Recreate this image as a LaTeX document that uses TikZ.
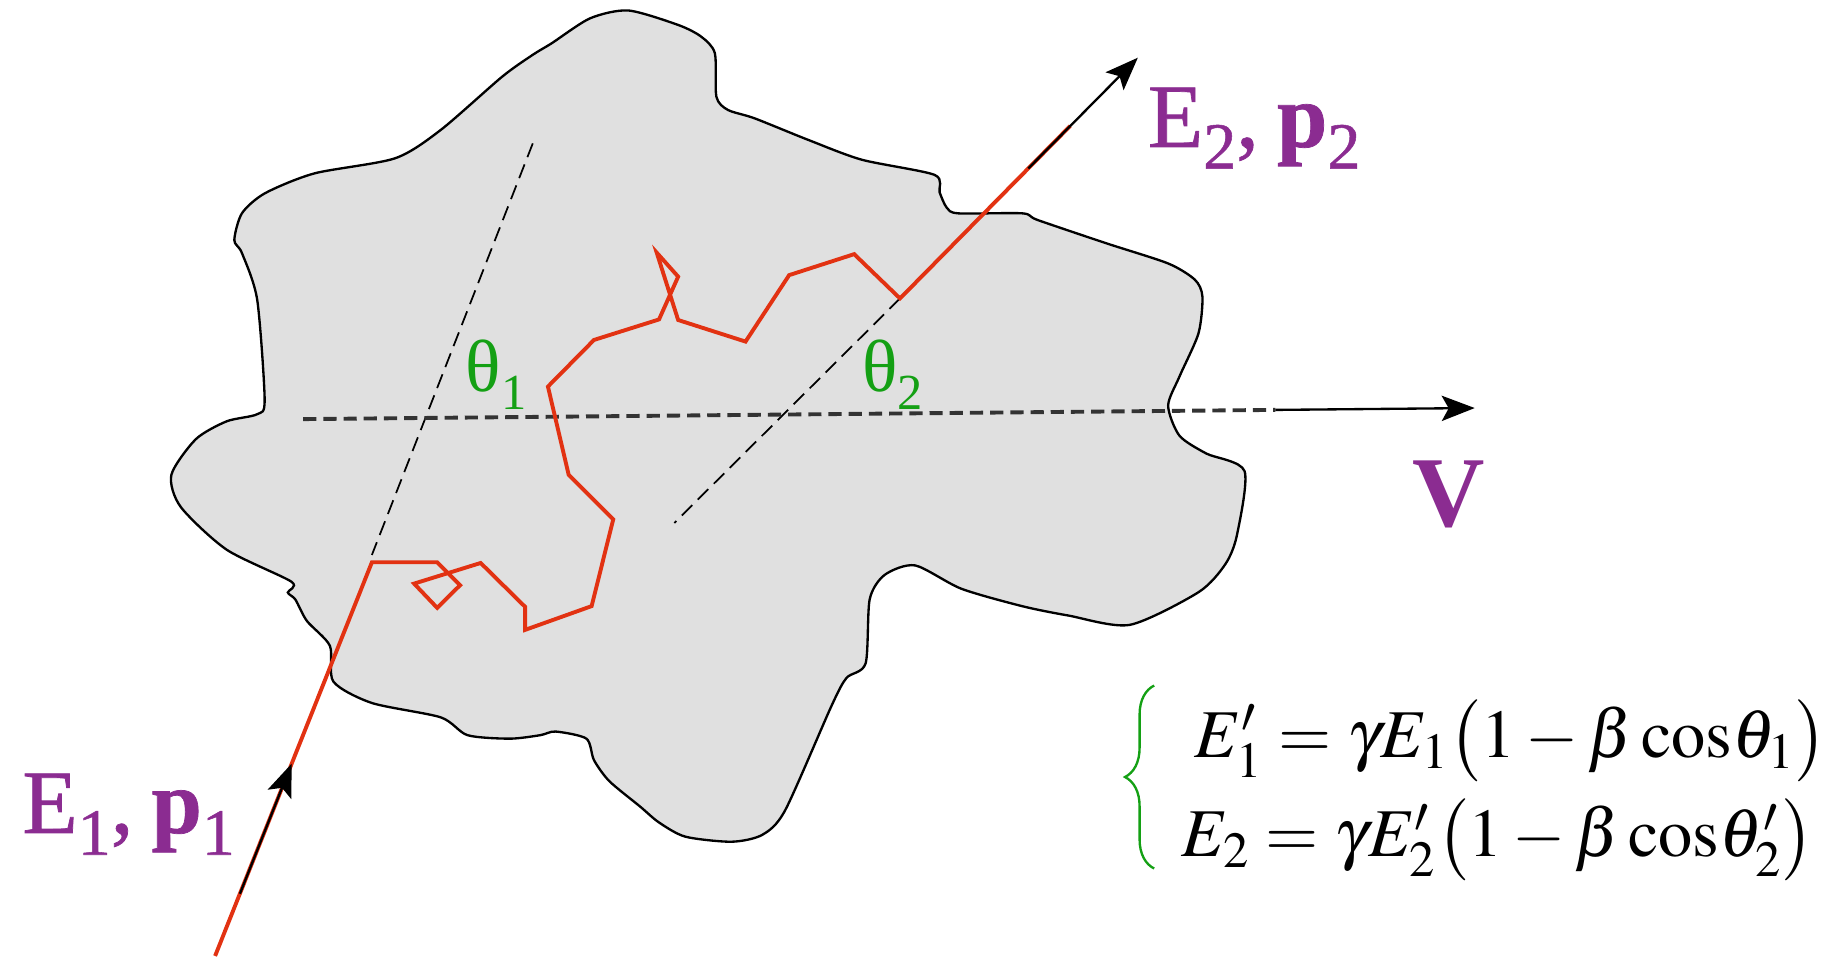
\documentclass[tikz,border=0pt]{standalone}
\usepackage{mathptmx}
\usepackage[no-math]{fontspec}
\setmainfont{Liberation Serif}
\newfontfamily\labfont{Liberation Serif}[RawFeature={embolden=0.8}]
\usetikzlibrary{arrows.meta,decorations.pathreplacing}
\definecolor{blobgray}{RGB}{224,224,224}
\definecolor{pathred}{RGB}{226,50,18}
\definecolor{labpurple}{RGB}{139,44,145}
\definecolor{labgreen}{RGB}{20,160,20}
\newcommand\lsub[1]{\raisebox{-5.6pt}{\fontsize{17pt}{17pt}\selectfont #1}}
\newcommand\tsub[1]{\raisebox{-4.7pt}{\fontsize{13pt}{13pt}\selectfont #1}}
\begin{document}
\begin{tikzpicture}[x=0.3pt,y=-0.3pt,
  blob/.style={fill=blobgray,draw=black,line width=0.6pt},
  guide/.style={draw=black,line width=0.45pt,dash pattern=on 3.8pt off 2pt},
  axis/.style={draw=black!80,line width=1pt,dash pattern=on 3.4pt off 1.8pt},
  track/.style={draw=pathred,line width=1pt,line join=miter},
  tipline/.style={-{Stealth[length=8.5pt,width=6.5pt,inset=1.8pt]},line width=0.6pt,draw=black},
  lab/.style={text=labpurple,inner sep=0pt,anchor=base west,font=\labfont\fontsize{23.3pt}{24pt}\selectfont},
  ang/.style={text=labgreen,inner sep=0pt,anchor=base west,font=\fontsize{19pt}{19pt}\selectfont},
  eqn/.style={inner sep=0pt,anchor=base west,font=\fontsize{17.6pt}{20pt}\selectfont}]
\useasboundingbox (0,0) rectangle (1568,823);
% cloud
\draw[blob] plot[smooth cycle,tension=0.45] coordinates {
(539,9) (581.7,21.4) (601.4,31.4) (613.2,45.7) (614.5,83) (624.4,94.3) (647.3,101.5)
(693.3,120) (739.2,137) (801.6,150) (806,165) (812,178) (822,183) (877,183) (890,188.7)
(949,208.7) (1002,226) (1025,240) (1031.4,254.5) (1028,286) (1011.7,323) (1002,348)
(1011.7,373.7) (1034.7,389) (1067.5,404) (1061,459) (1051,484) (1028,508) (969,536)
(916.5,528) (877,520) (824.6,505) (785,485) (759,493) (746,514) (742.5,569) (726,581.6)
(713,606) (673.6,694.8) (654,716) (627.6,722) (588,717.7) (565.3,705.5) (548.9,691.7)
(522.6,670) (509.5,652) (503,633.6) (476.6,627.5) (463.5,630.6) (437.3,633.6) (401,630.6)
(378,615.3) (319,603) (286,584.7) (283,554) (263.3,532.7) (253.4,514.3) (246.9,508.2)
(250,499) (194.4,471.5) (155,434.8) (147,407.3) (168,376.7) (194.4,361.4) (220.6,355.3)
(227,343) (220.6,257) (207.5,217) (201,206) (207.5,183) (227.2,165.8) (269.8,148.7)
(338.8,135.8) (378,111.5) (430.7,65.8) (457,47) (473.4,37) (506.2,15.7)};
% guides
\coordinate (g1a) at (457,123); \coordinate (g1b) at (319,476);
\coordinate (g2a) at (772,256); \coordinate (g2b) at (578.4,448.6);
\draw[guide] (g1a) -- (g1b);
\draw[guide] (g2a) -- (g2b);
\coordinate (ax0) at (260,359.5);
\coordinate (vA) at (1094,351.6);
\coordinate (vB) at (1265,350);
\draw[axis] (ax0) -- (vA);
\draw[tipline] (vA) -- (vB);
% random walk
\draw[track] (184.5,820) -- (319,482.3) -- (375,482.3) -- (394.6,502) -- (375,521.4)
 -- (355.2,500.6) -- (412.3,482.9) -- (450.4,520.5) -- (450.4,540.3) -- (507.5,519.9)
 -- (526,445.5) -- (487.8,407.3) -- (470,331.6) -- (509.5,291.6) -- (565.3,274)
 -- (581.7,237.3) -- (563.3,216.7) -- (581.7,274.5) -- (639.5,293) -- (676.9,236)
 -- (732.7,218) -- (772,256) -- (918,108);
% momentum arrows
\coordinate (inA) at (205.8,766.6); \coordinate (inB) at (250.2,655);
\draw[tipline] (inA) -- (inB);
\coordinate (outA) at (882,144.5); \coordinate (outB) at (976,49.5);
\draw[tipline] (outA) -- (outB);
% labels
\node[lab] (e2) at (984,126) {E\lsub{2},\hspace{0.2em}\textbf{p}\lsub{2}};
\node[lab] (e1) at (18.6,714.5) {E\lsub{1},\hspace{0.2em}\textbf{p}\lsub{1}};
\node[lab,font=\fontsize{25.8pt}{26pt}\selectfont\bfseries] (v) at (1211,452) {V};
\node[ang] (th1) at (399,336) {θ\tsub{1}};
\node[ang] (th2) at (739,336) {θ\tsub{2}};
% equations
\node[eqn] (eq1) at (1024,650) {$E'_1 = \gamma E_1\bigl(1-\beta\cos\!\theta_1\bigr)$};
\node[eqn] (eq2) at (1013,735) {$E_2 = \gamma E'_2\bigl(1-\beta\cos\!\theta'_2\bigr)$};
\coordinate (brB) at (990,745); \coordinate (brT) at (990,588);
\draw[labgreen,line width=0.6pt,decorate,decoration={brace,amplitude=7.5pt}] (brB) -- (brT);
\end{tikzpicture}
\end{document}
